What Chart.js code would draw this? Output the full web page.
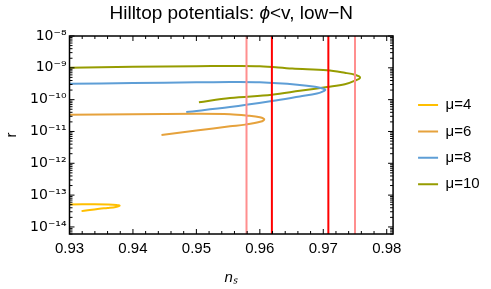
<!DOCTYPE html>
<html>
<head>
<meta charset="utf-8">
<script src="https://cdn.jsdelivr.net/npm/chart.js@4.4.1/dist/chart.umd.min.js"></script>
<style>
  html, body { margin: 0; padding: 0; background: #fff; }
  #wrap { width: 491px; height: 289px; }
</style>
</head>
<body>
<div id="wrap"><canvas id="hilltopChart"></canvas></div>
<script>
// values: ns on x, r (log scale) on y
const NS_MU4 = [0.93, 0.934, 0.936, 0.9374, 0.9379, 0.9373, 0.936, 0.9347, 0.9319];
const R_MU4 = [5.09e-14, 5.17e-14, 5.09e-14, 4.92e-14, 4.68e-14, 4.26e-14, 3.96e-14, 3.73e-14, 3.14e-14];

const NS_MU6 = [0.93, 0.94, 0.95, 0.9553, 0.9581, 0.96, 0.9607, 0.9602, 0.9577, 0.9553, 0.95, 0.9445];
const R_MU6 = [3.37e-11, 3.5e-11, 3.6e-11, 3.5e-11, 3.14e-11, 2.78e-11, 2.4e-11, 2.05e-11, 1.64e-11, 1.45e-11, 1.07e-11, 7.81e-12];

const NS_MU8 = [0.93, 0.94, 0.95, 0.9553, 0.96, 0.9659, 0.9687, 0.9703, 0.9698, 0.969, 0.9663, 0.9619, 0.9553, 0.9484];
const R_MU8 = [3.14e-10, 3.33e-10, 3.5e-10, 3.57e-10, 3.5e-10, 2.96e-10, 2.53e-10, 2.06e-10, 1.76e-10, 1.55e-10, 1.26e-10, 9.04e-11, 5.85e-11, 4.07e-11];

const NS_MU10 = [0.93, 0.94, 0.95, 0.9548, 0.96, 0.9651, 0.9706, 0.9734, 0.975, 0.9758, 0.975, 0.9734, 0.9706, 0.9663, 0.9619, 0.9553, 0.9504];
const R_MU10 = [1.0e-9, 1.08e-9, 1.13e-9, 1.14e-9, 1.12e-9, 9.44e-10, 8.34e-10, 6.97e-10, 6.03e-10, 4.92e-10, 3.95e-10, 3.03e-10, 2.49e-10, 1.89e-10, 1.42e-10, 1.12e-10, 8.22e-11];

const NS_BOUNDS = [0.9579, 0.9619, 0.9708, 0.975];
const BOUND_COLORS = ['#ff8f8f', '#ff0000', '#ff0000', '#ff8f8f'];

const X_TICKS = [0.93, 0.94, 0.95, 0.96, 0.97, 0.98];
const Y_EXPONENTS = [-14, -13, -12, -11, -10, -9, -8];
const X_MIN = 0.93, X_MAX = 0.981;
const Y_MIN = 6e-15, Y_MAX = 1e-8;

const SUP = {'-': '\u207B', '0': '\u2070', '1': '\u00B9', '2': '\u00B2', '3': '\u00B3', '4': '\u2074',
  '5': '\u2075', '6': '\u2076', '7': '\u2077', '8': '\u2078', '9': '\u2079'};
function pow10Label(v) {
  const e = String(Math.round(Math.log10(v)));
  return '10' + e.split('').map(c => SUP[c]).join('');
}

function pts(xs, ys) {
  return xs.map((x, i) => ({x: x, y: ys[i]}));
}

function curve(label, color, xs, ys) {
  return {
    label: label,
    data: pts(xs, ys),
    showLine: true,
    borderColor: color,
    backgroundColor: color,
    borderWidth: 2,
    pointRadius: 0,
    tension: 0.35,
    order: 1
  };
}

const datasets = [
  curve('\u03BC=4', '#ffbf00', NS_MU4, R_MU4),
  curve('\u03BC=6', '#e6a23c', NS_MU6, R_MU6),
  curve('\u03BC=8', '#5e9ed6', NS_MU8, R_MU8),
  curve('\u03BC=10', '#969c00', NS_MU10, R_MU10)
];
NS_BOUNDS.forEach((ns, i) => {
  datasets.push({
    label: 'bound',
    data: [{x: ns, y: Y_MIN}, {x: ns, y: Y_MAX}],
    showLine: true,
    borderColor: BOUND_COLORS[i],
    borderWidth: 2,
    pointRadius: 0,
    order: 0
  });
});

// Mathematica-like frame with inward ticks, and the title with an italic phi
const framePlugin = {
  id: 'framePlugin',
  afterDatasetsDraw(chart) {
    const {ctx, chartArea: a, scales: {x, y}} = chart;
    ctx.save();
    ctx.strokeStyle = '#000';
    ctx.lineWidth = 1;
    ctx.beginPath();
    for (let i = 0; i < X_TICKS.length; i++) {
      const step = i + 1 < X_TICKS.length ? (X_TICKS[i + 1] - X_TICKS[i]) / 5 : 0;
      for (let k = 0; k < 5; k++) {
        const v = X_TICKS[i] + k * step;
        if (k > 0 && !step) break;
        if (v > X_MAX) break;
        const px = x.getPixelForValue(v);
        const len = k === 0 ? 5 : 3;
        ctx.moveTo(px, a.bottom); ctx.lineTo(px, a.bottom - len);
        ctx.moveTo(px, a.top); ctx.lineTo(px, a.top + len);
      }
    }
    for (let e = Y_EXPONENTS[0] - 1; e <= Y_EXPONENTS[Y_EXPONENTS.length - 1]; e++) {
      for (let m = 1; m <= 9; m++) {
        const v = m * Math.pow(10, e);
        if (v < Y_MIN || v > Y_MAX) continue;
        const py = y.getPixelForValue(v);
        const len = m === 1 ? 5 : 3;
        ctx.moveTo(a.left, py); ctx.lineTo(a.left + len, py);
        ctx.moveTo(a.right, py); ctx.lineTo(a.right - len, py);
      }
    }
    ctx.stroke();
    ctx.lineWidth = 1.5;
    ctx.strokeRect(a.left, a.top, a.right - a.left, a.bottom - a.top);

    const parts = [
      {t: 'Hilltop potentials: ', f: '19px "Liberation Sans", Arial, sans-serif'},
      {t: '\u03D5', f: 'italic 19px "Liberation Sans", Arial, sans-serif'},
      {t: '<v, low\u2212N', f: '19px "Liberation Sans", Arial, sans-serif'}
    ];
    let total = 0;
    parts.forEach(p => { ctx.font = p.f; p.w = ctx.measureText(p.t).width; total += p.w; });
    let tx = (a.left + a.right) / 2 - total / 2;
    ctx.fillStyle = '#000';
    ctx.textBaseline = 'middle';
    ctx.textAlign = 'left';
    parts.forEach(p => { ctx.font = p.f; ctx.fillText(p.t, tx, 14); tx += p.w; });
    ctx.restore();
  }
};

Chart.defaults.font.family = '"Liberation Sans", Arial, sans-serif';
Chart.defaults.color = '#000';

new Chart(document.getElementById('hilltopChart'), {
  type: 'scatter',
  data: {datasets: datasets},
  options: {
    responsive: true,
    maintainAspectRatio: false,
    animation: false,
    layout: {padding: {top: 36, right: 3, bottom: 0, left: 0}},
    plugins: {
      tooltip: {enabled: false},
      legend: {
        position: 'right',
        align: 'start',
        title: {display: true, text: '', padding: {top: 35.7, bottom: 0}},
        labels: {
          filter: item => item.text !== 'bound',
          usePointStyle: true,
          pointStyle: 'line',
          pointStyleWidth: 20,
          padding: 11.4,
          font: {size: 15}
        }
      }
    },
    scales: {
      x: {
        type: 'linear',
        min: X_MIN,
        max: X_MAX,
        grid: {display: false, drawTicks: false},
        border: {display: false},
        afterBuildTicks: s => { s.ticks = X_TICKS.map(v => ({value: v})); },
        afterFit: s => { s.height = 55; },
        ticks: {padding: 6, font: {size: 15}, callback: v => v.toFixed(2)},
        title: {display: true, text: 'n\u209B', font: {size: 15, style: 'italic'}, padding: {top: 0, bottom: 2}}
      },
      y: {
        type: 'logarithmic',
        min: Y_MIN,
        max: Y_MAX,
        grid: {display: false, drawTicks: false},
        border: {display: false},
        afterBuildTicks: s => { s.ticks = Y_EXPONENTS.map(e => ({value: Math.pow(10, e), major: true})); },
        afterFit: s => { s.width = 69.5; },
        ticks: {padding: 3, font: {family: '"DejaVu Sans", sans-serif', size: 14}, autoSkip: false, callback: v => pow10Label(v)},
        title: {display: true, text: 'r', font: {size: 15}, padding: {top: 3, bottom: 0}}
      },
      spacer: {
        type: 'linear',
        position: 'right',
        display: true,
        grid: {display: false, drawTicks: false},
        border: {display: false},
        ticks: {display: false},
        afterFit: s => { s.width = 13.6; }
      }
    }
  },
  plugins: [framePlugin]
});
</script>
</body>
</html>
